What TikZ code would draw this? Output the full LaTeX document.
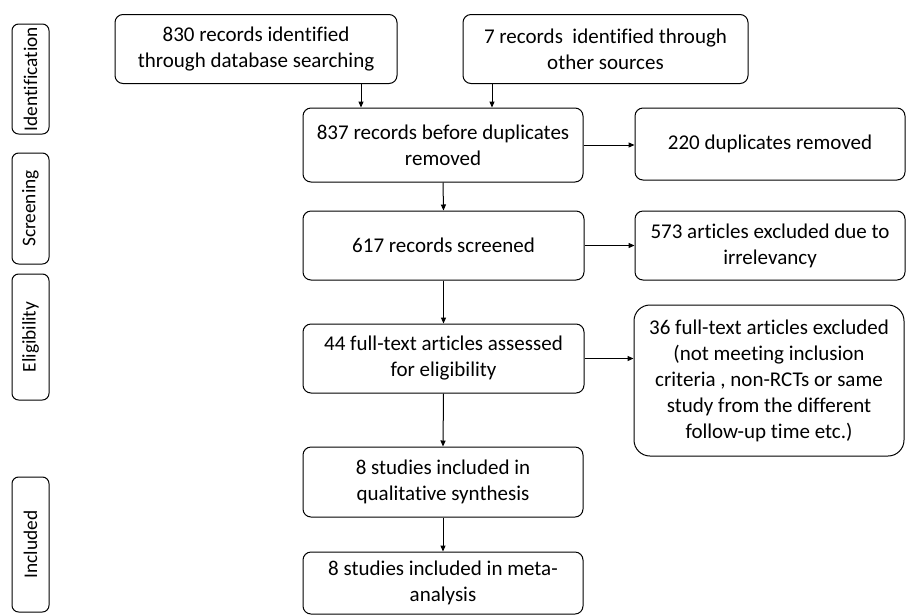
\documentclass[tikz,border=0pt]{standalone}
\usepackage{fontspec}
\setmainfont{Carlito}[Ligatures={NoCommon,NoRare,NoContextual}]
\usetikzlibrary{arrows.meta,calc}
\begin{document}
\begin{tikzpicture}[x=0.75pt,y=-0.75pt,
  box/.style={draw,line width=0.75pt,rounded corners=6pt,align=center,inner sep=2pt,
    font={\fontsize{15.75}{19.5}\selectfont}},
  bigbox/.style={box,rounded corners=12pt},
  side/.style={draw,line width=0.75pt,rounded corners=5pt,rotate=90,inner sep=0pt,
    minimum height=27.75pt,font={\fontsize{14.5}{17}\selectfont}},
  arr/.style={line width=0.75pt,-{Triangle[length=4.5pt,width=3.8pt]}}]
\useasboundingbox (0,0) rectangle (906,615);
% side labels
\node[side,minimum width=82.5pt] (sid) at (30.5,79) {Identification};
\node[side,minimum width=83.25pt] (ssc) at (30.5,208.5) {Screening};
\node[side,minimum width=94.5pt] (sel) at (30.5,337) {Eligibility};
\node[side,minimum width=101.25pt] (sin) at (30.5,544.5) {Included};
% main boxes
\node[box,minimum width=211.5pt,minimum height=51.75pt] (idl) at (256,49) {830 records identified\\through database searching};
\node[box,minimum width=213.75pt,minimum height=51.75pt] (idr) at (605.5,49) {7 records\ \ identified through\\other sources};
\node[box,minimum width=210pt,minimum height=55.5pt] (dup) at (443,145) {837 records before duplicates\\removed};
\node[box,minimum width=202.5pt,minimum height=54pt] (rem) at (770,144) {220 duplicates removed};
\node[box,minimum width=210.75pt,minimum height=51.75pt] (scr) at (443.5,245.5) {617 records screened};
\node[box,minimum width=202.5pt,minimum height=51.75pt] (exc) at (770,245.5) {573 articles excluded due to\\irrelevancy};
\node[box,minimum width=210.75pt,minimum height=51.75pt] (ful) at (443.5,358.5) {44 full-text articles assessed\\for eligibility};
\node[bigbox,minimum width=202.5pt,minimum height=113.25pt] (fex) at (769,380.5) {36 full-text articles excluded\\(not meeting inclusion\\criteria , non-RCTs or same\\study from the different\\follow-up time etc.)};
\node[box,minimum width=210pt,minimum height=52.5pt] (qual) at (443,482) {8 studies included in\\qualitative synthesis};
\node[box,minimum width=210pt,minimum height=46.5pt] (meta) at (443,583) {8 studies included in meta-\\analysis};
% connectors
\draw[arr] ([xshift=105*0.75pt]idl.south) -- ([xshift=105*0.75pt]idl.south |- dup.north);
\draw[arr] ([xshift=-113.5*0.75pt]idr.south) -- ([xshift=-113.5*0.75pt]idr.south |- dup.north);
\draw[arr] (dup.east) -- (dup.east -| rem.west);
\draw[arr] (dup.south) -- (scr.north);
\draw[arr] (scr.east) -- (scr.east -| exc.west);
\draw[arr] (scr.south) -- (ful.north);
\draw[arr] (ful.east) -- (ful.east -| fex.west);
\draw[arr] (ful.south) -- (qual.north);
\draw[arr] (qual.south) -- (meta.north);
\end{tikzpicture}
\end{document}
